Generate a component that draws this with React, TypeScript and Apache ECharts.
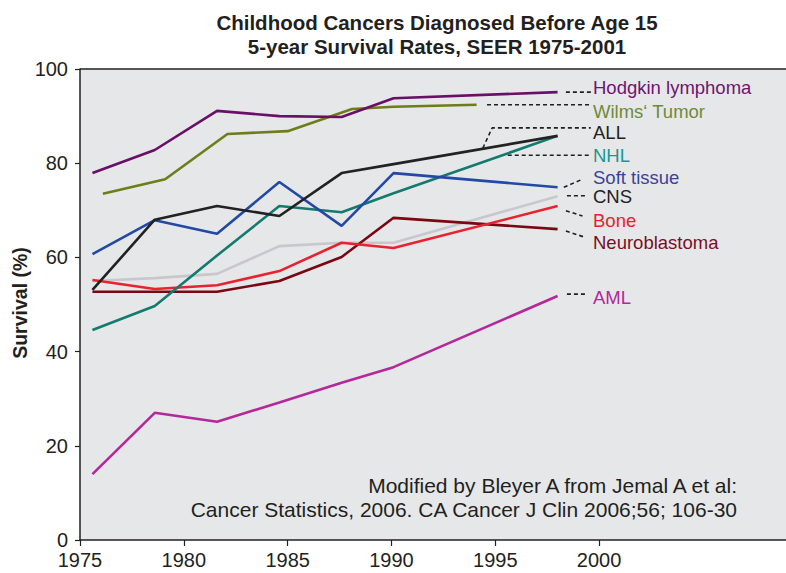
import React, { useEffect, useRef } from "react";
import * as echarts from "echarts";

// Period mid-points (years)
const years = [1975.6, 1978.6, 1981.6, 1984.6, 1987.6, 1990.1, 1998.0];
const wilmsYears = [1976.1, 1979.1, 1982.1, 1985.0, 1988.1, 1990.1, 1994.1];

// 5-year survival (%)
const hodgkin = [77.9, 82.8, 91.1, 90.0, 89.8, 93.8, 95.1];
const wilms = [73.5, 76.6, 86.2, 86.8, 91.5, 92.0, 92.4];
const allLeuk = [53.1, 68.0, 70.9, 68.8, 77.9, 79.8, 85.8];
const nhl = [44.6, 49.7, 60.4, 70.9, 69.6, 73.6, 85.8];
const softTissue = [60.7, 67.9, 65.0, 76.0, 66.7, 77.9, 74.9];
const cns = [55.0, 55.6, 56.5, 62.4, 63.1, 63.1, 73.0];
const bone = [55.2, 53.3, 54.1, 57.1, 63.1, 62.0, 70.9];
const neuro = [52.7, 52.7, 52.7, 55.0, 60.1, 68.4, 66.0];
const aml = [14.0, 27.0, 25.1, 29.2, 33.4, 36.7, 51.8];

const xTicks = [1975, 1980, 1985, 1990, 1995, 2000];

// Leader lines (data coordinates) from line ends to labels
const leaders: [number, number][][] = [
  [[1998.4, 95.1], [1999.6, 95.1]],
  [[1994.6, 92.4], [1999.6, 92.4]],
  [[1994.4, 83.2], [1994.85, 87.5], [1999.6, 87.5]],
  [[1995.6, 81.7], [1999.6, 81.7]],
  [[1998.3, 74.9], [1999.2, 76.6]],
  [[1998.45, 73.1], [1999.45, 73.1]],
  [[1998.4, 69.9], [1999.2, 68.8]],
  [[1998.4, 65.6], [1999.3, 64.3]],
  [[1998.45, 52.2], [1999.45, 52.2]],
];

const labels = [
  { text: "Hodgkin lymphoma", y: 87, color: "#6f1470" },
  { text: "Wilms\u2018 Tumor", y: 111, color: "#6e8a3a" },
  { text: "ALL", y: 132, color: "#231f20" },
  { text: "NHL", y: 155, color: "#17998f" },
  { text: "Soft tissue", y: 177, color: "#3c4396" },
  { text: "CNS", y: 196, color: "#231f20" },
  { text: "Bone", y: 220, color: "#e8212e" },
  { text: "Neuroblastoma", y: 242, color: "#7a0f24" },
  { text: "AML", y: 297, color: "#b1299b" },
];

const FONT = "'Liberation Sans', Arial, Helvetica, sans-serif";

export default function App() {
  const ref = useRef<HTMLDivElement>(null);
  useEffect(() => {
    if (!ref.current) return;
    const chart = echarts.init(ref.current, undefined, { renderer: "svg" });
    const mk = (name: string, xs: number[], ys: number[], color: string, z = 2) => ({
      name,
      type: "line",
      data: xs.map((x, i) => [x, ys[i]]),
      symbol: "none",
      z,
      lineStyle: { color, width: 2.6 },
    });
    const series: any[] = [
      mk("CNS", years, cns, "#c9c7cd", 1),
      mk("Neuroblastoma", years, neuro, "#7a0712"),
      mk("Bone", years, bone, "#e8222e"),
      mk("NHL", years, nhl, "#137a6e"),
      mk("Soft tissue", years, softTissue, "#2349a6"),
      mk("ALL", years, allLeuk, "#222222"),
      mk("Wilms", wilmsYears, wilms, "#6e7d1a"),
      mk("Hodgkin", years, hodgkin, "#6a0f68"),
      mk("AML", years, aml, "#b5289a"),
    ];
    leaders.forEach((pts, i) => {
      series.push({
        name: "leader" + i,
        type: "line",
        data: pts,
        symbol: "none",
        silent: true,
        z: 3,
        lineStyle: { color: "#231f20", width: 1.6, type: [4, 3] },
      });
    });
    chart.setOption({
      animation: false,
      textStyle: { fontFamily: FONT },
      grid: {
        left: 80,
        top: 69,
        right: 0,
        bottom: 33,
        show: true,
        backgroundColor: "#e6e7e9",
        borderWidth: 0,
      },
      xAxis: {
        type: "value",
        min: 1975,
        max: 2009,
        interval: 5,
        splitLine: { show: false },
        axisLine: { lineStyle: { color: "#231f20", width: 1.5 } },
        axisTick: { length: 6, customValues: xTicks, lineStyle: { color: "#231f20", width: 1.2 } },
        axisLabel: {
          customValues: xTicks,
          formatter: (v: number) => String(v),
          fontSize: 20,
          color: "#231f20",
          margin: 10,
          fontFamily: FONT,
        },
      },
      yAxis: {
        type: "value",
        min: 0,
        max: 100,
        interval: 20,
        splitLine: { show: false },
        axisLine: { show: true, lineStyle: { color: "#231f20", width: 1.5 } },
        axisTick: { show: true, length: 5, lineStyle: { color: "#231f20", width: 1.2 } },
        axisLabel: { fontSize: 20, color: "#231f20", margin: 12, fontFamily: FONT },
      },
      series,
      graphic: [
        {
          type: "line",
          shape: { x1: 80, y1: 69, x2: 786, y2: 69 },
          style: { stroke: "#231f20", lineWidth: 1.5 },
          z: 10,
        },
        {
          type: "text",
          x: 437,
          y: 22,
          style: {
            text: "Childhood Cancers Diagnosed Before Age 15",
            font: `bold 20.5px ${FONT}`,
            fill: "#231f20",
            align: "center",
            verticalAlign: "middle",
          },
        },
        {
          type: "text",
          x: 437,
          y: 46,
          style: {
            text: "5-year Survival Rates, SEER 1975-2001",
            font: `bold 20.5px ${FONT}`,
            fill: "#231f20",
            align: "center",
            verticalAlign: "middle",
          },
        },
        {
          type: "text",
          x: 20,
          y: 303,
          rotation: Math.PI / 2,
          style: {
            text: "Survival (%)",
            font: `bold 19.5px ${FONT}`,
            fill: "#231f20",
            align: "center",
            verticalAlign: "middle",
          },
        },
        {
          type: "text",
          x: 737,
          y: 485,
          z: 10,
          style: {
            text: "Modified by Bleyer A from Jemal A et al:",
            font: `21px ${FONT}`,
            fill: "#231f20",
            align: "right",
            verticalAlign: "middle",
          },
        },
        {
          type: "text",
          x: 737,
          y: 509,
          z: 10,
          style: {
            text: "Cancer Statistics, 2006. CA Cancer J Clin 2006;56; 106-30",
            font: `21px ${FONT}`,
            fill: "#231f20",
            align: "right",
            verticalAlign: "middle",
          },
        },
        ...labels.map((l) => ({
          type: "text",
          x: 593,
          y: l.y,
          z: 10,
          style: {
            text: l.text,
            font: `18.5px ${FONT}`,
            fill: l.color,
            align: "left",
            verticalAlign: "middle",
          },
        })),
      ],
    });
    return () => chart.dispose();
  }, []);
  return <div ref={ref} style={{ width: 786, height: 573, position: "absolute", left: 0, top: 0 }} />;
}
